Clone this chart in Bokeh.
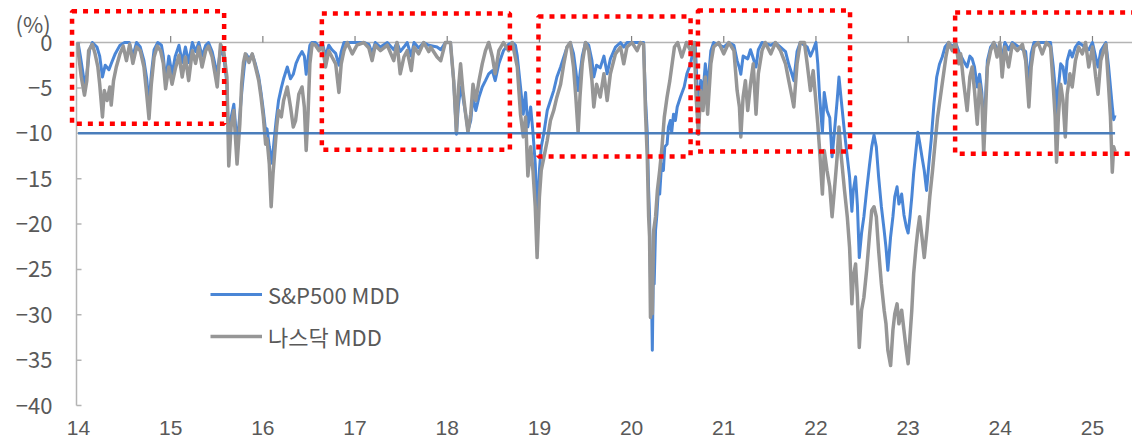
from bokeh.plotting import figure
from bokeh.models import Range1d, Legend, LegendItem
from bokeh.core.properties import value
from bokeh.embed import file_html
from bokeh.resources import INLINE

# ---------------- data ----------------
nq_t = [13.995, 14.00, 14.03, 14.065, 14.09, 14.11, 14.15, 14.18, 14.21, 14.23, 14.26, 14.28, 14.31, 14.34, 14.355,
        14.38, 14.41, 14.45, 14.485, 14.52, 14.555, 14.59, 14.63, 14.67, 14.71, 14.74, 14.765, 14.79, 14.82, 14.855,
        14.89, 14.92, 14.945, 14.98, 15.015, 15.05, 15.09, 15.125, 15.16, 15.195, 15.235, 15.27, 15.305, 15.34, 15.38,
        15.41, 15.45, 15.505, 15.54, 15.575, 15.61, 15.63, 15.655, 15.685, 15.72, 15.75, 15.77, 15.79, 15.81, 15.85,
        15.885, 15.92, 15.955, 15.98, 16.005, 16.03, 16.045, 16.07, 16.09, 16.11, 16.125, 16.15, 16.17, 16.20, 16.225,
        16.265, 16.30, 16.33, 16.355, 16.39, 16.425, 16.45, 16.47, 16.49, 16.51, 16.535, 16.57, 16.61, 16.645, 16.68,
        16.715, 16.75, 16.79, 16.825, 16.85, 16.88, 16.915, 16.97, 17.02, 17.095, 17.15, 17.185, 17.22, 17.275, 17.35,
        17.42, 17.455, 17.49, 17.53, 17.565, 17.61, 17.64, 17.69, 17.745, 17.80, 17.82, 17.89, 17.93, 17.98, 18.035,
        18.07, 18.10, 18.12, 18.145, 18.17, 18.20, 18.225, 18.255, 18.28, 18.31, 18.345, 18.38, 18.415, 18.45, 18.49,
        18.52, 18.56, 18.61, 18.665, 18.705, 18.76, 18.795, 18.825, 18.85, 18.875, 18.905, 18.93, 18.955, 18.975, 19.0,
        19.02, 19.05, 19.085, 19.12, 19.155, 19.19, 19.23, 19.265, 19.30, 19.335, 19.37, 19.395, 19.42, 19.44, 19.465,
        19.50, 19.535, 19.57, 19.59, 19.62, 19.66, 19.70, 19.735, 19.77, 19.825, 19.88, 19.915, 19.95, 20.005, 20.06,
        20.095, 20.13, 20.15, 20.17, 20.185, 20.195, 20.205, 20.21, 20.225, 20.24, 20.26, 20.28, 20.305, 20.33, 20.355,
        20.385, 20.415, 20.44, 20.465, 20.50, 20.545, 20.595, 20.64, 20.68, 20.70, 20.725, 20.75, 20.775, 20.80, 20.825,
        20.86, 20.89, 20.945, 21.0, 21.055, 21.11, 21.145, 21.17, 21.185, 21.21, 21.235, 21.26, 21.29, 21.32, 21.35,
        21.375, 21.415, 21.45, 21.51, 21.56, 21.615, 21.67, 21.705, 21.74, 21.76, 21.795, 21.83, 21.875, 21.905, 21.94,
        21.97, 21.995, 22.02, 22.04, 22.07, 22.09, 22.12, 22.15, 22.175, 22.20, 22.23, 22.25, 22.275, 22.31, 22.34,
        22.365, 22.39, 22.405, 22.43, 22.45, 22.47, 22.495, 22.52, 22.55, 22.58, 22.605, 22.63, 22.655, 22.68, 22.71,
        22.74, 22.76, 22.78, 22.81, 22.835, 22.855, 22.88, 22.90, 22.93, 22.955, 22.98, 23.0, 23.02, 23.04, 23.06,
        23.085, 23.105, 23.125, 23.15, 23.175, 23.205, 23.235, 23.265, 23.295, 23.32, 23.35, 23.38, 23.41, 23.44, 23.48,
        23.515, 23.55, 23.57, 23.60, 23.64, 23.67, 23.695, 23.72, 23.75, 23.775, 23.80, 23.82, 23.84, 23.86, 23.895,
        23.93, 23.965, 23.995, 24.02, 24.05, 24.09, 24.13, 24.185, 24.24, 24.275, 24.31, 24.335, 24.365, 24.41, 24.455,
        24.50, 24.545, 24.575, 24.595, 24.61, 24.63, 24.655, 24.68, 24.705, 24.725, 24.755, 24.78, 24.815, 24.85, 24.89,
        24.925, 24.96, 25.0, 25.035, 25.06, 25.09, 25.12, 25.145, 25.175, 25.195, 25.215, 25.23, 25.245]
nq_v = [0, -1.25, -3.8, -5.8, -4.2, -0.9, -0.2, -1.25, -2.7, -4.6, -8.2, -5.3, -6.4, -4.9, -6.9,
        -4.2, -2.7, -1.25, -0.4, -2.0, -0.2, -2.3, -0.5, -0.9, -2.7, -5.7, -8.4, -4.6, -1.6, -0.4,
        -0.9, -2.3, -5.1, -2.7, -4.6, -2.9, -1.4, -3.8, -1.6, -4.2, -0.9, -2.3, -0.5, -2.7, -0.9,
        -0.4, -1.6, -4.9, -0.2, -0.9, -3.8, -13.6, -9.3, -7.5, -13.4, -9.0, -4.5, -2.2, -1.25, -2.2,
        -1.25, -2.7, -4.2, -6.0, -8.2, -11.2, -10.6, -13.4, -18.1, -14.5, -12.6, -9.3, -7.5, -8.2, -6.4,
        -4.9, -7.1, -9.3, -8.6, -5.7, -4.9, -7.1, -11.9, -7.9, -2.35, -0.15, -0.3, -0.9, -0.3, -2.7,
        -0.9, -1.6, -2.35, -5.5, -2.35, -0.9, 0, -1.25, -0.3, 0, -0.6, -2.0, -0.3, -0.9, -0.3,
        -2.0, 0, -3.45, -1.6, -0.9, -3.1, -0.5, -1.25, 0, -1.0, -0.5, -1.6, -2.0, 0, 0,
        -4.2, -9.9, -5.3, -2.35, -5.3, -7.9, -9.9, -7.9, -4.6, -6.4, -4.2, -2.35, -0.9, 0, -1.6,
        -3.45, -0.9, 0, -0.9, 0, -2.7, -7.9, -10.4, -8.2, -14.7, -11.5, -14.1, -18.1, -23.7, -17.0,
        -14.1, -12.6, -10.8, -8.6, -7.5, -6.0, -4.6, -2.35, -0.5, 0, -2.7, -6.0, -9.9, -6.0, -2.35,
        0, -0.9, -4.2, -7.1, -4.6, -6.0, -3.45, -6.4, -3.45, -1.25, -0.5, -2.35, -0.5, 0, -0.9,
        0, -0.2, -7.5, -12.6, -19.2, -21.4, -30.3, -24.4, -29.9, -20.7, -19.2, -16.3, -14.1, -11.5, -8.2,
        -6.0, -4.2, -2.35, -0.5, 0, -1.6, 0, -0.9, 0, -6.0, -10.1, -5.3, -7.5, -3.8, -7.9,
        -2.35, -0.5, 0, -1.25, 0, -0.9, -5.3, -7.1, -10.4, -6.0, -4.2, -7.5, -4.6, -2.35, -7.9,
        -3.45, -0.9, 0, -1.25, 0, -0.9, -2.35, -4.2, -6.0, -7.1, -2.35, 0, 0, -2.35, -5.3,
        -3.1, -6.0, -9.0, -11.9, -16.7, -11.9, -14.1, -15.9, -19.2, -16.3, -12.6, -9.3, -12.6, -16.3, -19.2,
        -22.6, -28.8, -25.9, -24.4, -28.1, -33.6, -29.5, -28.1, -25.1, -21.4, -18.5, -18.1, -19.2, -22.9, -26.6,
        -29.5, -31.0, -33.9, -35.6, -31.7, -29.9, -28.8, -31.0, -29.5, -31.7, -33.9, -35.4, -32.4, -29.5, -25.5,
        -22.6, -20.7, -19.2, -21.4, -23.7, -20.7, -17.0, -14.1, -10.8, -8.2, -6.0, -3.8, -1.6, 0, -0.9,
        0, -2.35, -1.25, -4.2, -7.5, -3.8, -2.7, -5.3, -9.0, -4.6, -6.4, -12.3, -7.5, -2.7, -0.9,
        0, -1.6, 0, -3.8, -0.5, -2.7, -0.2, -0.9, -0.2, -2.0, -7.1, -2.7, -0.5, 0, -1.25,
        0, -0.5, -4.9, -8.2, -13.2, -8.2, -4.6, -6.4, -10.4, -5.7, -3.45, -4.9, -2.0, -0.5, -1.25,
        0, -2.7, -0.5, -3.8, -5.7, -2.0, -0.9, -0.2, -4.9, -8.2, -14.3, -11.5, -12.0]

sp_t = [13.995, 14.02, 14.05, 14.07, 14.09, 14.12, 14.15, 14.20, 14.23, 14.26, 14.29, 14.33, 14.36, 14.40, 14.45,
        14.50, 14.55, 14.59, 14.63, 14.67, 14.71, 14.74, 14.765, 14.79, 14.82, 14.86, 14.90, 14.92, 14.945, 14.98,
        15.015, 15.05, 15.09, 15.125, 15.16, 15.195, 15.235, 15.27, 15.305, 15.34, 15.38, 15.41, 15.45, 15.505, 15.54,
        15.575, 15.61, 15.63, 15.655, 15.685, 15.72, 15.75, 15.775, 15.80, 15.82, 15.85, 15.885, 15.92, 15.955, 15.98,
        16.005, 16.03, 16.045, 16.07, 16.10, 16.12, 16.145, 16.17, 16.20, 16.225, 16.265, 16.30, 16.33, 16.36, 16.39,
        16.425, 16.45, 16.47, 16.49, 16.51, 16.53, 16.57, 16.61, 16.645, 16.68, 16.715, 16.75, 16.79, 16.825, 16.85,
        16.88, 17.0, 17.095, 17.15, 17.185, 17.22, 17.275, 17.35, 17.42, 17.455, 17.49, 17.53, 17.565, 17.61, 17.64,
        17.69, 17.745, 17.80, 17.89, 17.93, 17.98, 18.035, 18.07, 18.10, 18.12, 18.145, 18.17, 18.20, 18.225, 18.255,
        18.28, 18.31, 18.345, 18.38, 18.415, 18.45, 18.49, 18.52, 18.56, 18.61, 18.665, 18.705, 18.74, 18.76, 18.795,
        18.825, 18.85, 18.875, 18.905, 18.93, 18.955, 18.975, 19.0, 19.02, 19.05, 19.085, 19.12, 19.155, 19.19, 19.23,
        19.265, 19.30, 19.335, 19.37, 19.395, 19.42, 19.44, 19.465, 19.50, 19.535, 19.57, 19.59, 19.62, 19.66, 19.70,
        19.735, 19.77, 19.825, 19.88, 19.915, 19.95, 20.13, 20.15, 20.17, 20.185, 20.195, 20.205, 20.215, 20.225, 20.235,
        20.245, 20.26, 20.275, 20.29, 20.305, 20.325, 20.345, 20.36, 20.385, 20.40, 20.42, 20.435, 20.455, 20.475, 20.495,
        20.53, 20.57, 20.60, 20.64, 20.665, 20.69, 20.705, 20.725, 20.75, 20.775, 20.80, 20.825, 20.86, 20.89, 21.0,
        21.055, 21.11, 21.145, 21.17, 21.185, 21.21, 21.26, 21.29, 21.35, 21.375, 21.415, 21.51, 21.56, 21.615, 21.67,
        21.705, 21.74, 21.76, 21.795, 21.83, 21.905, 21.94, 21.97, 22.0, 22.02, 22.04, 22.07, 22.09, 22.12, 22.15,
        22.175, 22.20, 22.23, 22.25, 22.275, 22.31, 22.34, 22.365, 22.39, 22.405, 22.43, 22.45, 22.47, 22.495, 22.52,
        22.55, 22.58, 22.605, 22.63, 22.655, 22.68, 22.71, 22.74, 22.76, 22.78, 22.81, 22.835, 22.855, 22.88, 22.90,
        22.93, 22.955, 22.98, 23.0, 23.02, 23.04, 23.06, 23.085, 23.105, 23.125, 23.15, 23.175, 23.20, 23.225, 23.25,
        23.28, 23.31, 23.34, 23.37, 23.40, 23.44, 23.48, 23.515, 23.55, 23.60, 23.64, 23.67, 23.695, 23.72, 23.75,
        23.775, 23.80, 23.82, 23.84, 23.86, 23.895, 23.93, 24.02, 24.05, 24.09, 24.13, 24.275, 24.31, 24.335, 24.365,
        24.545, 24.575, 24.595, 24.61, 24.63, 24.655, 24.68, 24.705, 24.725, 24.755, 24.78, 24.815, 24.85, 24.96, 25.0,
        25.035, 25.06, 25.09, 25.145, 25.175, 25.195, 25.215, 25.23, 25.245]
sp_v = [0, -1.5, -3.5, -4.8, -3.5, -0.8, 0, -0.5, -1.5, -3.8, -2.5, -3.0, -2.2, -1.2, -0.3,
        0, 0, -1.5, 0, -0.5, -2.0, -4.0, -6.8, -3.5, -0.8, 0, -0.3, -1.5, -4.2, -1.5,
        -3.5, -1.5, -0.3, -2.2, -0.5, -2.2, 0, -1.0, 0, -1.5, -0.3, 0, -1.0, -3.5, -0.8,
        -1.5, -4.5, -11.5, -8.3, -6.8, -11.2, -8.0, -5.0, -2.5, -1.3, -1.8, -1.3, -2.4, -3.8, -5.5,
        -7.5, -9.8, -9.5, -11.5, -13.3, -11.0, -8.5, -6.4, -5.0, -4.0, -2.7, -4.0, -3.5, -2.3, -1.6,
        -1.0, -1.5, -3.5, -1.8, -0.3, 0, 0, -0.5, 0, -1.5, -0.3, -0.8, -1.2, -2.5, -1.0,
        0, 0, 0, -0.2, -1.2, 0, -0.5, 0, -0.8, 0, -1.0, -0.5, 0, -1.5, 0,
        -0.6, 0, -0.3, -0.5, -0.8, 0, 0, -4.2, -10.1, -7.1, -4.9, -6.0, -7.9, -9.7, -8.6,
        -6.0, -7.5, -6.0, -4.9, -4.2, -3.45, -3.1, -4.2, -2.35, -0.9, -0.2, 0, -0.3, -1.5, -4.9,
        -7.9, -5.5, -9.3, -7.1, -9.9, -13.4, -19.2, -14.1, -11.5, -9.9, -7.5, -6.4, -5.3, -3.8, -2.7,
        -1.6, -0.5, 0, -1.2, -3.1, -5.3, -3.5, -1.5, 0, -0.3, -2.0, -3.8, -2.5, -2.8, -1.5,
        -3.45, -1.8, -0.5, 0, -0.5, 0, 0, -6.0, -9.9, -16.3, -19.0, -26.0, -26.6, -33.9, -26.0,
        -26.6, -20.7, -18.9, -16.3, -16.7, -13.4, -14.1, -11.5, -11.2, -9.3, -8.6, -9.9, -7.9, -8.6, -7.1,
        -6.0, -4.9, -3.45, -2.35, -1.0, 0, -3.5, -8.2, -4.2, -5.5, -2.35, -5.0, -0.9, 0, -0.5,
        0, -0.3, -2.0, -2.8, -3.5, -1.5, -1.8, -0.8, -2.7, -0.8, 0, -0.3, 0, -0.5, -1.0,
        -2.4, -3.5, -4.2, -1.0, 0, -0.5, -1.5, -0.8, 0, -2.35, -6.0, -9.9, -5.5, -7.5, -8.3,
        -12.6, -9.9, -6.4, -3.8, -6.4, -9.9, -12.6, -14.8, -18.6, -16.3, -14.8, -18.0, -23.7, -21.0, -19.2,
        -16.3, -13.6, -11.5, -10.2, -11.5, -14.8, -18.1, -20.7, -22.6, -25.1, -21.4, -19.2, -17.0, -15.9, -17.8,
        -16.7, -19.0, -20.3, -21.0, -19.2, -17.0, -14.4, -11.9, -9.9, -11.0, -12.6, -14.1, -16.3, -13.4, -10.8,
        -6.8, -3.8, -2.4, -1.6, -0.5, 0, -0.5, 0, -1.0, -2.0, -2.7, -1.5, -1.8, -2.7, -4.9,
        -3.5, -5.5, -9.9, -6.0, -2.0, -0.5, 0, -1.6, 0, -0.8, 0, -1.0, -4.6, -1.2, 0,
        0, -2.7, -5.0, -8.5, -5.0, -2.35, -2.7, -4.5, -2.0, -0.9, -1.6, -0.5, 0, -0.8, 0,
        -1.6, -2.7, -0.9, 0, -2.7, -4.9, -7.1, -8.5, -8.0]

threshold = -10
year_ticks = list(range(14, 26))
year_labels = [str(y) for y in year_ticks]
pct_ticks = [0, -5, -10, -15, -20, -25, -30, -35, -40]
pct_labels = ["0", "\u22125", "\u221210", "\u221215", "\u221220", "\u221225", "\u221230", "\u221235", "\u221240"]
series_names = ["S&P500 MDD", "나스닥 MDD"]
unit_label = "(%)"

# highlighted periods (red dotted boxes), in years / %
box_left = [13.93, 16.64, 18.99, 20.72, 23.51]
box_right = [15.58, 18.68, 20.64, 22.37, 25.60]
box_top = [3.45, 3.2, 2.87, 3.53, 3.3]
box_bottom = [-8.96, -11.83, -12.55, -12.0, -12.27]

# ---------------- styling / layout ----------------
FONT = "Noto Sans CJK KR"
NUM_FONT = "Liberation Sans"
FS = "22px"
TXT = "#595959"
BLUE = "#4A86D6"
GRAY = "#969696"
REF = "#4A7EBB"
AXIS = "#B4B4B4"

W, H = 1132, 440
PX_PER_YEAR = 92.18
PX_PER_PCT = 9.075
X0 = 14 - 78 / PX_PER_YEAR               # the frame spans the whole canvas
X1 = 14 + (W - 78) / PX_PER_YEAR
Y1 = 42 / PX_PER_PCT
Y0 = -(H - 42) / PX_PER_PCT
AXIS_X = X0 + 76 / PX_PER_YEAR
LABEL_X = X0 + 52 / PX_PER_YEAR
UNIT_X = X0 + 15 / PX_PER_YEAR
XLABEL_Y = -(427.5 - 42) / PX_PER_PCT

p = figure(width=W, height=H, output_backend="svg", toolbar_location=None,
           x_range=Range1d(X0, X1), y_range=Range1d(Y0, Y1),
           x_axis_location=None, y_axis_location=None,
           min_border_left=0, min_border_right=0, min_border_top=0, min_border_bottom=0)
p.outline_line_color = None
p.xgrid.visible = False
p.ygrid.visible = False
p.background_fill_color = "white"

# zero line, vertical axis line, ticks
p.segment(x0=[AXIS_X], y0=[0], x1=[X1], y1=[0], line_color=AXIS, line_width=1.5)
p.segment(x0=[AXIS_X], y0=[pct_ticks[-1]], x1=[AXIS_X], y1=[0], line_color=AXIS, line_width=1.5)
tick_dx = 5 / PX_PER_YEAR
p.segment(x0=[AXIS_X] * len(pct_ticks), y0=pct_ticks, x1=[AXIS_X + tick_dx] * len(pct_ticks), y1=pct_ticks,
          line_color=AXIS, line_width=1.5)
xt = year_ticks[1:]
p.segment(x0=xt, y0=[0] * len(xt), x1=xt, y1=[0.72] * len(xt), line_color="#808080", line_width=1.2)

# tick labels and unit
p.text(x=[LABEL_X] * len(pct_ticks), y=pct_ticks, text=pct_labels, text_font=value(FONT), text_font_size=FS,
       text_color=TXT, text_align="right", text_baseline="middle")
p.text(x=year_ticks, y=[XLABEL_Y] * len(year_ticks), text=year_labels, text_font=value(NUM_FONT),
       text_font_size="21px", text_color=TXT, text_align="center", text_baseline="middle")
p.text(x=[UNIT_X], y=[2.2], text=[unit_label], text_font=value(FONT), text_font_size=FS,
       text_color=TXT, text_align="left", text_baseline="middle")

# series
r_sp = p.line(sp_t, sp_v, line_color=BLUE, line_width=3, line_join="round")
r_nq = p.line(nq_t, nq_v, line_color=GRAY, line_width=3.5, line_join="round")
p.line([sp_t[0], sp_t[-1]], [threshold, threshold], line_color=REF, line_width=2.4)

# red dotted boxes
p.quad(left=box_left, right=box_right, top=box_top, bottom=box_bottom,
       fill_alpha=0, line_color="#FF0000", line_width=4.5, line_dash="5 6")

legend = Legend(items=[LegendItem(label=series_names[0], renderers=[r_sp]),
                       LegendItem(label=series_names[1], renderers=[r_nq])],
                location=(210, 88), orientation="vertical",
                glyph_width=52, glyph_height=20, label_height=20, label_standoff=6, spacing=10,
                padding=0, margin=0, border_line_alpha=0, background_fill_alpha=0,
                label_text_font=FONT, label_text_font_size=FS, label_text_color=TXT)
p.add_layout(legend)

open("out.html", "w").write(file_html(p, INLINE))
